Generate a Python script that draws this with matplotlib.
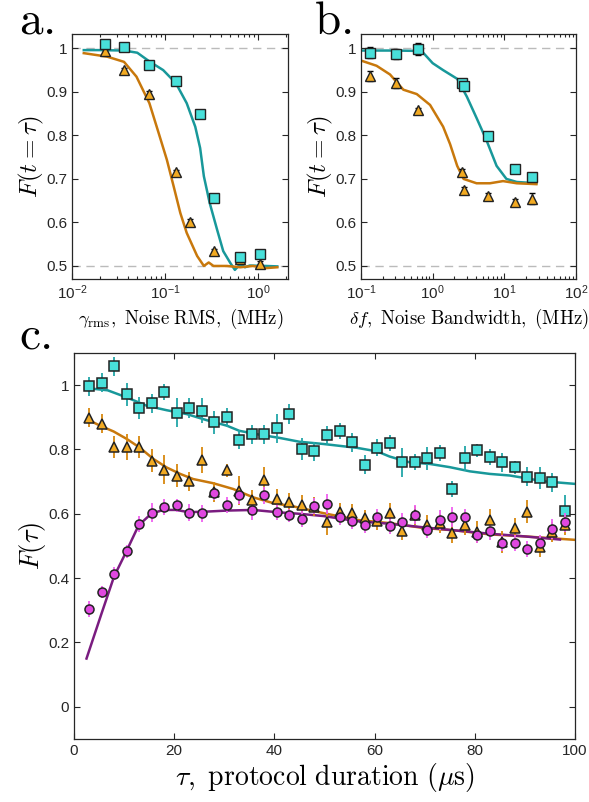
import matplotlib
matplotlib.use("Agg")
import matplotlib.pyplot as plt
from matplotlib import ticker

plt.rcParams['font.family'] = ['Liberation Sans', 'DejaVu Sans']
plt.rcParams['mathtext.fontset'] = 'custom'
plt.rcParams['mathtext.rm'] = 'Liberation Sans'
plt.rcParams['mathtext.it'] = 'Liberation Sans:italic'
plt.rcParams['mathtext.bf'] = 'Liberation Sans:bold'

# colours
SQ_FACE = '#48E0DA'
SQ_LINE = '#18989A'
SQ_ERR = '#22A6A8'
TRI_FACE = '#F2AA22'
TRI_LINE = '#C8780C'
TRI_ERR = '#D8880E'
CI_FACE = '#E048E0'
CI_LINE = '#7A1C80'
CI_ERR = '#F060F0'
EDGE = '#222222'
AXC = '#262626'

# ---- panel a: fidelity vs noise RMS ----
a_sq_x = [0.0224, 0.0364, 0.0675, 0.131, 0.237, 0.33, 0.63, 1.04]
a_sq_y = [1.011, 1.002, 0.962, 0.924, 0.850, 0.656, 0.520, 0.527]
a_sq_err = [0.006, 0.005, 0.006, 0.007, 0.004, 0.004, 0.006, 0.005]
a_tri_x = [0.0224, 0.0364, 0.0675, 0.131, 0.185, 0.33, 0.63, 1.04]
a_tri_y = [0.993, 0.950, 0.895, 0.716, 0.601, 0.534, 0.515, 0.504]
a_tri_err = [0.005, 0.006, 0.006, 0.005, 0.008, 0.004, 0.005, 0.007]
a_teal_x = [0.0133, 0.02, 0.036, 0.05, 0.0675, 0.095, 0.13, 0.17, 0.21, 0.237, 0.26, 0.30,
            0.36, 0.42, 0.50, 0.56, 0.64, 0.72, 0.81, 1.2, 1.6]
a_teal_y = [0.996, 0.996, 0.995, 0.99, 0.97, 0.95, 0.92, 0.874, 0.82, 0.771, 0.706, 0.645,
            0.584, 0.534, 0.507, 0.491, 0.504, 0.497, 0.501, 0.500, 0.499]
a_or_x = [0.0133, 0.0237, 0.036, 0.049, 0.0675, 0.085, 0.104, 0.123, 0.145, 0.17, 0.22,
          0.26, 0.293, 0.33, 0.46, 0.64, 0.88, 1.2, 1.6]
a_or_y = [0.989, 0.981, 0.969, 0.935, 0.874, 0.805, 0.744, 0.683, 0.622, 0.576, 0.523,
          0.500, 0.508, 0.500, 0.500, 0.497, 0.500, 0.495, 0.497]

# ---- panel b: fidelity vs noise bandwidth ----
b_sq_x = [0.134, 0.308, 0.618, 2.54, 2.74, 5.98, 14.1, 24.6]
b_sq_y = [0.990, 0.987, 0.998, 0.921, 0.914, 0.798, 0.723, 0.705]
b_sq_err = [0.013, 0.012, 0.014, 0.006, 0.008, 0.006, 0.010, 0.006]
b_tri_x = [0.134, 0.308, 0.618, 2.54, 2.74, 5.98, 14.1, 24.6]
b_tri_y = [0.937, 0.920, 0.858, 0.716, 0.675, 0.660, 0.647, 0.655]
b_tri_err = [0.012, 0.012, 0.006, 0.006, 0.006, 0.008, 0.008, 0.012]
b_teal_x = [0.1, 0.3, 0.7, 1.0, 1.4, 2.2, 3.0, 4.1, 5.6, 7.8, 10.7, 14.9, 28.0]
b_teal_y = [0.995, 0.995, 0.994, 0.966, 0.95, 0.93, 0.889, 0.84, 0.79, 0.73, 0.70, 0.693, 0.69]
b_or_x = [0.1, 0.165, 0.254, 0.39, 0.6, 0.92, 1.4, 1.75, 2.2, 2.7, 4.1, 6.3, 9.6, 14.9, 28.0]
b_or_y = [0.972, 0.96, 0.94, 0.905, 0.895, 0.87, 0.82, 0.78, 0.73, 0.70, 0.69, 0.69, 0.695, 0.69, 0.688]

# ---- panel c: fidelity vs protocol duration ----
tau = [3, 5.5, 8, 10.5, 13, 15.5, 18, 20.5, 23, 25.5, 28, 30.5, 33, 35.5, 38, 40.5, 43,
       45.5, 48, 50.5, 53, 55.5, 58, 60.5, 63, 65.5, 68, 70.5, 73, 75.5, 78, 80.5, 83,
       85.5, 88, 90.5, 93, 95.5, 98]
c_sq = [0.996, 1.008, 1.058, 0.971, 0.929, 0.943, 0.979, 0.914, 0.929, 0.921, 0.884, 0.900,
        0.830, 0.847, 0.847, 0.866, 0.910, 0.801, 0.794, 0.844, 0.856, 0.822, 0.753, 0.806,
        0.820, 0.760, 0.760, 0.772, 0.789, 0.677, 0.772, 0.798, 0.777, 0.760, 0.744, 0.715,
        0.711, 0.698, 0.608]
c_sq_err = [0.030, 0.030, 0.030, 0.035, 0.035, 0.030, 0.025, 0.045, 0.030, 0.040, 0.035, 0.030,
            0.030, 0.030, 0.030, 0.045, 0.030, 0.035, 0.030, 0.030, 0.025, 0.030, 0.030, 0.025,
            0.025, 0.045, 0.025, 0.035, 0.025, 0.025, 0.040, 0.020, 0.025, 0.030, 0.020, 0.030,
            0.035, 0.030, 0.050]
c_tri = [0.899, 0.880, 0.807, 0.807, 0.807, 0.765, 0.737, 0.719, 0.701, 0.767, 0.668, 0.735,
         0.672, 0.643, 0.705, 0.646, 0.636, 0.627, 0.622, 0.574, 0.605, 0.602, 0.586, 0.579,
         0.603, 0.548, 0.595, 0.566, 0.570, 0.540, 0.564, 0.543, 0.581, 0.512, 0.557, 0.607,
         0.496, 0.543, 0.564]
c_tri_err = [0.030, 0.030, 0.035, 0.040, 0.035, 0.035, 0.045, 0.035, 0.030, 0.040, 0.030, 0.020,
             0.045, 0.030, 0.040, 0.030, 0.030, 0.030, 0.030, 0.040, 0.030, 0.030, 0.025, 0.030,
             0.030, 0.030, 0.030, 0.030, 0.030, 0.030, 0.030, 0.035, 0.035, 0.035, 0.030, 0.035,
             0.030, 0.030, 0.030]
c_ci = [0.305, 0.357, 0.414, 0.484, 0.567, 0.603, 0.621, 0.626, 0.604, 0.601, 0.664, 0.628,
        0.657, 0.612, 0.657, 0.605, 0.595, 0.584, 0.624, 0.630, 0.589, 0.577, 0.566, 0.589,
        0.561, 0.576, 0.597, 0.550, 0.581, 0.590, 0.590, 0.535, 0.548, 0.510, 0.509, 0.491,
        0.509, 0.553, 0.574]
c_ci_err = [0.025, 0.020, 0.020, 0.020, 0.025, 0.030, 0.025, 0.020, 0.025, 0.025, 0.020, 0.025,
            0.025, 0.030, 0.025, 0.025, 0.020, 0.025, 0.025, 0.030, 0.025, 0.025, 0.025, 0.025,
            0.025, 0.025, 0.030, 0.025, 0.030, 0.030, 0.025, 0.025, 0.030, 0.025, 0.025, 0.025,
            0.025, 0.030, 0.030]
c_teal_x = [3, 6.7, 10.5, 14.5, 18.5, 22.5, 26.5, 30.5, 33, 37, 41, 45, 49.8, 56.5, 60.5, 63,
            67, 71, 75, 79, 83, 87, 89.7, 93.7, 100]
c_teal_y = [0.99, 0.984, 0.962, 0.936, 0.922, 0.910, 0.891, 0.874, 0.858, 0.846, 0.836, 0.824,
            0.817, 0.805, 0.794, 0.778, 0.760, 0.755, 0.745, 0.732, 0.724, 0.719, 0.712, 0.701, 0.693]
c_or_x = [3, 5.2, 7.9, 10.5, 13.2, 15.8, 18.5, 21.2, 23.8, 27.8, 31.8, 35.8, 39.8, 43.8,
          49.8, 56.5, 63, 69.7, 76.3, 83, 89.7, 100]
c_or_y = [0.891, 0.874, 0.856, 0.833, 0.805, 0.771, 0.744, 0.724, 0.708, 0.695, 0.677, 0.651,
          0.633, 0.623, 0.602, 0.581, 0.571, 0.556, 0.548, 0.536, 0.530, 0.519]
c_pu_x = [2.5, 5.5, 8, 10.3, 12.9, 15.4, 17.8, 20.4, 22.9, 26.7, 30.5, 35.8, 40.5, 45,
          49.8, 56.5, 63, 69.7, 76.3, 83, 89.7, 97]
c_pu_y = [0.15, 0.29, 0.405, 0.478, 0.564, 0.600, 0.612, 0.612, 0.605, 0.607, 0.610, 0.612,
          0.605, 0.600, 0.593, 0.577, 0.569, 0.558, 0.548, 0.538, 0.530, 0.520]

fig = plt.figure(figsize=(5.89, 8.02), dpi=100)
ax_a = fig.add_axes([0.1227, 0.6521, 0.3667, 0.3055])
ax_b = fig.add_axes([0.6129, 0.6521, 0.3650, 0.3055])
ax_c = fig.add_axes([0.1256, 0.0786, 0.8506, 0.4813])


def style_axes(ax):
    for s in ax.spines.values():
        s.set_color(AXC)
        s.set_linewidth(0.9)
    ax.tick_params(which='both', direction='in', top=True, right=True, colors=AXC,
                   labelsize=11, width=0.8)
    ax.tick_params(which='major', length=4)
    ax.tick_params(which='minor', length=2)


for ax, sx, sy, se, tx, ty, te, lx1, ly1, lx2, ly2, xlim in [
        (ax_a, a_sq_x, a_sq_y, a_sq_err, a_tri_x, a_tri_y, a_tri_err,
         a_teal_x, a_teal_y, a_or_x, a_or_y, (0.01, 2.1)),
        (ax_b, b_sq_x, b_sq_y, b_sq_err, b_tri_x, b_tri_y, b_tri_err,
         b_teal_x, b_teal_y, b_or_x, b_or_y, (0.1, 100))]:
    ax.set_xscale('log')
    ax.axhline(1.0, color='#BBBBBB', ls=(0, (6, 4)), lw=1, zorder=1)
    ax.axhline(0.5, color='#BBBBBB', ls=(0, (6, 4)), lw=1, zorder=1)
    ax.plot(lx1, ly1, color=SQ_LINE, lw=1.8, zorder=2)
    ax.plot(lx2, ly2, color=TRI_LINE, lw=1.8, zorder=2)
    ax.errorbar(tx, ty, yerr=te, fmt='^', ms=7.5, mfc=TRI_FACE, mec=EDGE, mew=1,
                ecolor='black', elinewidth=1, capsize=2.5, zorder=3)
    ax.errorbar(sx, sy, yerr=se, fmt='s', ms=7, mfc=SQ_FACE, mec=EDGE, mew=1,
                ecolor='black', elinewidth=1, capsize=2.5, zorder=4)
    ax.set_xlim(*xlim)
    ax.set_ylim(0.47, 1.033)
    ax.set_yticks([0.5, 0.6, 0.7, 0.8, 0.9, 1.0])
    ax.set_yticklabels(['0.5', '0.6', '0.7', '0.8', '0.9', '1'])
    ax.xaxis.set_minor_locator(ticker.LogLocator(base=10, subs=range(2, 10), numticks=20))
    ax.xaxis.set_minor_formatter(ticker.NullFormatter())
    style_axes(ax)
    ax.set_ylabel(r'$F(t = \tau)$', fontsize=18, math_fontfamily='cm', labelpad=0)

ax_a.set_xticks([0.01, 0.1, 1])
ax_b.set_xticks([0.1, 1, 10, 100])
ax_a.set_xlabel(r'$\gamma_{\mathrm{rms}}\mathrm{,\ Noise\ RMS,\ (MHz)}$', fontsize=13.5,
                math_fontfamily='cm', labelpad=3)
ax_b.set_xlabel(r'$\delta f\mathrm{,\ Noise\ Bandwidth,\ (MHz)}$', fontsize=13.5,
                math_fontfamily='cm', labelpad=3)

# panel c
ax_c.plot(c_teal_x, c_teal_y, color=SQ_LINE, lw=1.8, zorder=2)
ax_c.plot(c_or_x, c_or_y, color=TRI_LINE, lw=1.8, zorder=2)
ax_c.plot(c_pu_x, c_pu_y, color=CI_LINE, lw=1.8, zorder=2)
ax_c.errorbar(tau, c_sq, yerr=c_sq_err, fmt='s', ms=7, mfc=SQ_FACE, mec=EDGE, mew=1.1,
              ecolor=SQ_ERR, elinewidth=1.3, capsize=0, zorder=3)
ax_c.errorbar(tau, c_tri, yerr=c_tri_err, fmt='^', ms=7.5, mfc=TRI_FACE, mec=EDGE, mew=1.1,
              ecolor=TRI_ERR, elinewidth=1.3, capsize=0, zorder=4)
ax_c.errorbar(tau, c_ci, yerr=c_ci_err, fmt='o', ms=6.5, mfc=CI_FACE, mec=EDGE, mew=1.1,
              ecolor=CI_ERR, elinewidth=1.3, capsize=0, zorder=4)
ax_c.set_xlim(0, 100)
ax_c.set_ylim(-0.1, 1.1)
ax_c.set_xticks([0, 20, 40, 60, 80, 100])
ax_c.set_yticks([0, 0.2, 0.4, 0.6, 0.8, 1.0])
ax_c.set_yticklabels(['0', '0.2', '0.4', '0.6', '0.8', '1'])
style_axes(ax_c)
ax_c.set_xlabel(r'$\tau\mathrm{,\ protocol\ duration\ (}\mu\mathrm{s)}$', fontsize=20,
                math_fontfamily='cm', labelpad=2)
ax_c.set_ylabel(r'$F(\tau)$', fontsize=19, math_fontfamily='cm', labelpad=0)

# panel letters
for x, y, s in [(0.032, 0.958, 'a.'), (0.533, 0.958, 'b.'), (0.032, 0.566, 'c.')]:
    fig.text(x, y, r'$\mathrm{%s}$' % s, fontsize=34, math_fontfamily='cm',
             ha='left', va='baseline')

fig.savefig('out.png', dpi=100)
